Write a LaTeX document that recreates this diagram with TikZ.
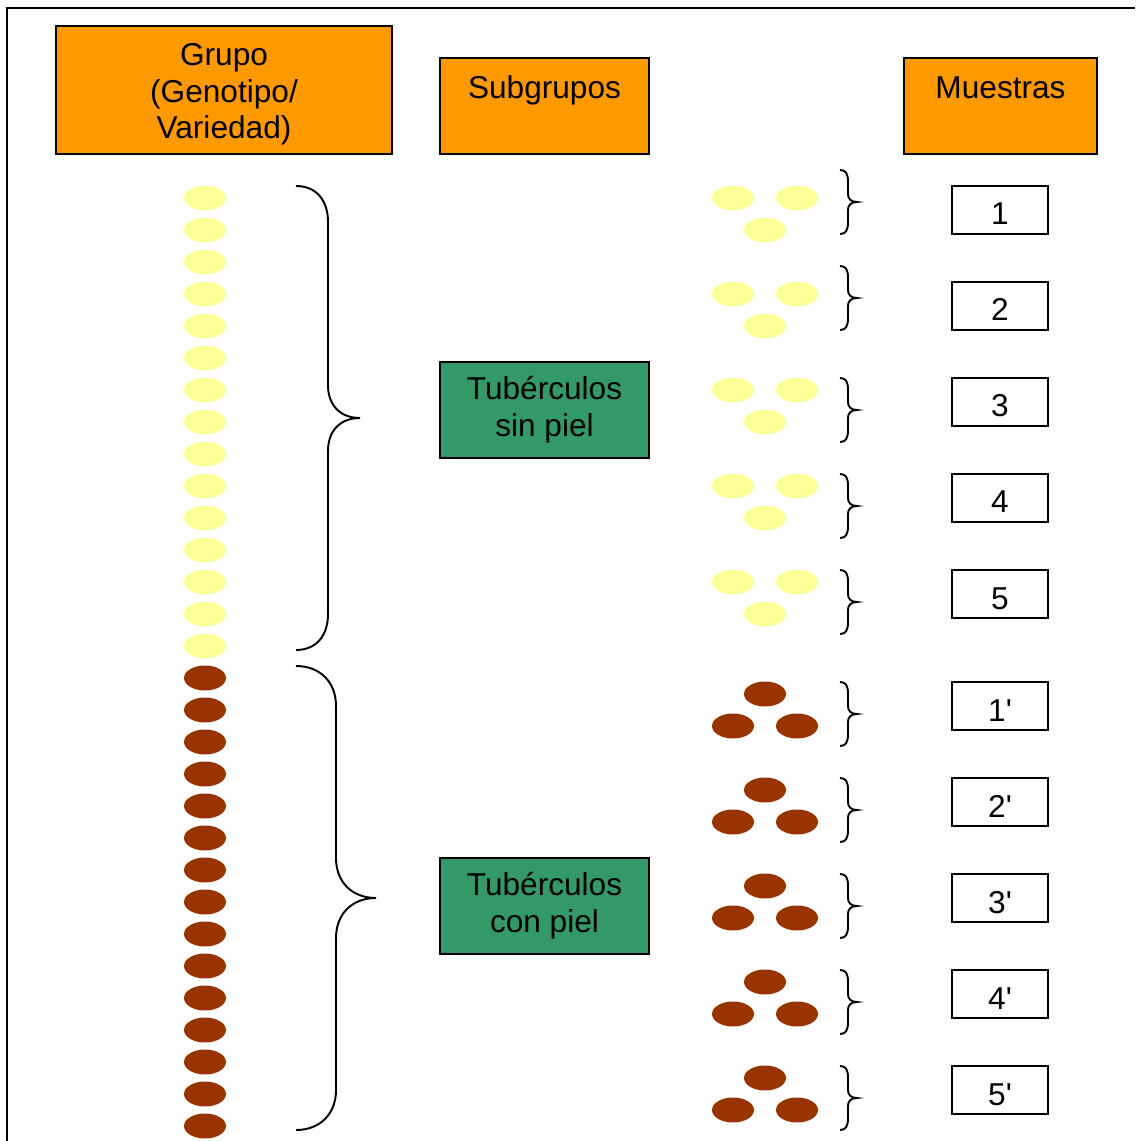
\documentclass[tikz,border=0pt]{standalone}
\usepackage{fontspec}
\setmainfont{Liberation Sans}
\usepackage{tikz}
\usetikzlibrary{positioning}

\definecolor{headorange}{HTML}{FF9900}
\definecolor{subgreen}{HTML}{339966}
\definecolor{peeled}{HTML}{FFFF99}
\definecolor{skin}{HTML}{993300}

\begin{document}
\begin{tikzpicture}[
        x=0.02cm, y=-0.02cm,
        font=\fontsize{18}{21}\selectfont,
        header/.style={
            rectangle,
            draw,
            line width=1pt,
            fill=headorange,
            inner sep=0pt,
            text centered,
            align=center
        },
        toplabel/.style={
            header,
            text height=0.82cm,
            text depth=1.10cm
        },
        subgroup/.style={
            header,
            fill=subgreen,
            minimum width=4.18cm,
            minimum height=1.92cm
        },
        sample/.style={
            rectangle,
            draw,
            line width=1pt,
            minimum width=1.92cm,
            inner sep=0pt,
            text height=0.78cm,
            text depth=0.18cm
        },
        tuber/.style={x radius=0.42cm, y radius=0.25cm},
        brace/.style={draw, line width=1.1pt}
    ]
        \useasboundingbox (0,0) rectangle (1135,1141);
        \draw[line width=1pt] (1135,8) -- (7,8) -- (7,1141);

        % Headers
        \node[header, minimum width=6.72cm, text height=2.26cm, text depth=0.30cm] (grupo) at (224,90) {Grupo\\(Genotipo/\\Variedad)};
        \node[toplabel, minimum width=4.18cm] (subgrupos) at (544.5,106) {Subgrupos};
        \node[toplabel, minimum width=3.86cm] (muestras) at (1000.5,106) {Muestras};

        % Subgroups
        \node[subgroup] (sinpiel) at (544.5,410) {Tubérculos\\sin piel};
        \node[subgroup] (conpiel) at (544.5,906) {Tubérculos\\con piel};

        % Tubers of the group
        \foreach \i in {0,...,14} {
            \fill[peeled] (205,198+32*\i) ellipse [tuber];
            \fill[skin] (205,678+32*\i) ellipse [tuber];
        }

        % Big braces
        \path[brace] (296,186) .. controls (316,186) and (328,200) .. (328,222) -- (328,385)
            .. controls (328,405) and (340,418) .. (360,418)
            .. controls (340,418) and (328,431) .. (328,451) -- (328,614)
            .. controls (328,636) and (316,650) .. (296,650);
        \path[brace] (296,666) .. controls (320,666) and (336,682) .. (336,706) -- (336,858)
            .. controls (336,882) and (352,898) .. (376,898)
            .. controls (352,898) and (336,914) .. (336,938) -- (336,1090)
            .. controls (336,1114) and (320,1130) .. (296,1130);

        % Samples without skin
        \foreach \n/\y in {1/210, 2/306, 3/402, 4/498, 5/594} {
            \node[sample] (s\n) at (1000,\y) {\n};
            \fill[peeled] (733,\y-12) ellipse [tuber];
            \fill[peeled] (797,\y-12) ellipse [tuber];
            \fill[peeled] (765,\y+20) ellipse [tuber];
        }

        % Samples with skin
        \foreach \n/\y in {1/706, 2/802, 3/898, 4/994, 5/1090} {
            \node[sample] (p\n) at (1000,\y) {\n\textquotesingle};
            \fill[skin] (765,\y-12) ellipse [tuber];
            \fill[skin] (733,\y+20) ellipse [tuber];
            \fill[skin] (797,\y+20) ellipse [tuber];
        }

        % Small braces
        \foreach \b in {170,266,378,474,570,682,778,874,970,1066} {
            \path[brace] (840,\b) .. controls (846,\b) and (848,\b+4) .. (848,\b+12) -- (848,\b+24)
                .. controls (848,\b+29) and (851,\b+32) .. (857,\b+32)
                .. controls (851,\b+32) and (848,\b+35) .. (848,\b+40) -- (848,\b+52)
                .. controls (848,\b+60) and (846,\b+64) .. (840,\b+64);
        }
    \end{tikzpicture}
\end{document}
